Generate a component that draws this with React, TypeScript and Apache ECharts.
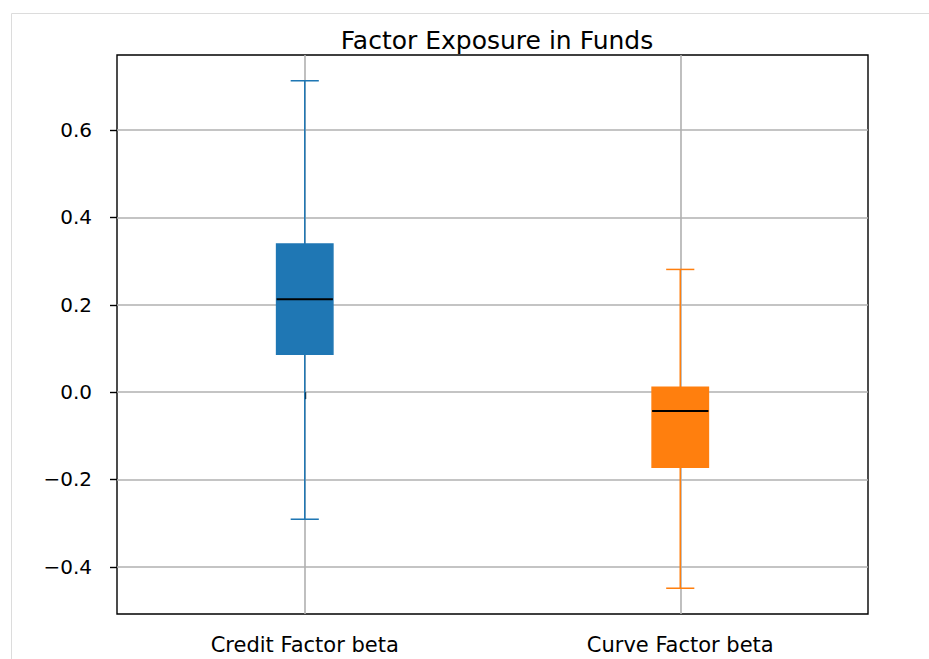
import React, { useEffect, useRef } from "react";
import * as echarts from "echarts";

// Box-plot statistics per factor: [whisker low, Q1, median, Q3, whisker high]
const categories = ["Credit Factor beta", "Curve Factor beta"];
const creditStats = [-0.291, 0.087, 0.213, 0.339, 0.713];
const curveStats = [-0.449, -0.172, -0.043, 0.011, 0.281];
const boxColors = ["#1f77b4", "#ff7f0e"];
const yTicks = [-0.4, -0.2, 0.0, 0.2, 0.4, 0.6];
const yRange = [-0.508, 0.772];

const BOX_WIDTH = 0.15;

export default function App() {
  const ref = useRef<HTMLDivElement>(null);

  useEffect(() => {
    if (!ref.current) return;
    const chart = echarts.init(ref.current, null, { renderer: "svg" });

    const boxData = [creditStats, curveStats].map((s, i) => [i + 1, ...s]);
    const catPositions = categories.map((_, i) => i + 1);

    const option: any = {
      animation: false,
      backgroundColor: "#ffffff",
      title: {
        text: "Factor Exposure in Funds",
        left: 492,
        textAlign: "center",
        top: 23,
        textStyle: {
          fontFamily: "DejaVu Sans",
          fontSize: 25,
          fontWeight: "normal",
          color: "#000",
          lineHeight: 25,
        },
      },
      graphic: [
        {
          type: "rect",
          silent: true,
          shape: { x: 11.5, y: 13.5, width: 2000, height: 2000 },
          style: { fill: "none", stroke: "#dcdcdc", lineWidth: 1 },
          z: -10,
        },
      ],
      grid: {
        left: 117,
        right: 61,
        top: 55,
        bottom: 45,
        show: true,
        borderColor: "#000",
        borderWidth: 1.4,
        backgroundColor: "transparent",
      },
      xAxis: {
        type: "value",
        min: 0.5,
        max: 2.5,
        axisLine: { show: false },
        axisTick: {
          show: true,
          customValues: catPositions,
          length: 7,
          lineStyle: { color: "#000", width: 1.4 },
        },
        axisLabel: {
          customValues: catPositions,
          margin: 20,
          fontFamily: "DejaVu Sans",
          fontSize: 21,
          color: "#000",
          formatter: (v: number) => categories[Math.round(v) - 1] ?? "",
        },
        splitLine: {
          show: true,
          lineStyle: { color: "#b0b0b0", width: 1.6 },
        },
      },
      yAxis: {
        type: "value",
        min: yRange[0],
        max: yRange[1],
        axisLine: { show: false },
        axisTick: {
          show: true,
          customValues: yTicks,
          length: 7,
          lineStyle: { color: "#000", width: 1.4 },
        },
        axisLabel: {
          customValues: yTicks,
          margin: 25,
          fontFamily: "DejaVu Sans",
          fontSize: 20,
          color: "#000",
          formatter: (v: number) => {
            const s = v.toFixed(1);
            return v < 0 ? "\u2212" + s.slice(1) : s;
          },
        },
        splitLine: {
          show: true,
          lineStyle: { color: "#b0b0b0", width: 1.6 },
        },
      },
      series: [
        {
          type: "custom",
          data: boxData,
          encode: { x: 0, y: [1, 2, 3, 4, 5] },
          renderItem: (params: any, api: any) => {
            const x = api.value(0);
            const idx = params.dataIndex;
            const color = boxColors[idx];
            const lo = api.coord([x, api.value(1)]);
            const q1 = api.coord([x, api.value(2)]);
            const med = api.coord([x, api.value(3)]);
            const q3 = api.coord([x, api.value(4)]);
            const hi = api.coord([x, api.value(5)]);
            const bw = api.size([BOX_WIDTH, 0])[0];
            const cw = bw / 2;
            const cx = lo[0];
            const line = (x1: number, y1: number, x2: number, y2: number, stroke: string, w: number) => ({
              type: "line",
              shape: { x1, y1, x2, y2 },
              style: { stroke, lineWidth: w },
            });
            return {
              type: "group",
              children: [
                line(cx, q1[1], cx, lo[1], color, 1.5),
                line(cx, q3[1], cx, hi[1], color, 1.5),
                line(cx - cw / 2, lo[1], cx + cw / 2, lo[1], color, 1.5),
                line(cx - cw / 2, hi[1], cx + cw / 2, hi[1], color, 1.5),
                {
                  type: "rect",
                  shape: { x: cx - bw / 2, y: q3[1], width: bw, height: q1[1] - q3[1] },
                  style: { fill: color, stroke: color, lineWidth: 1.5 },
                },
                line(cx - bw / 2, med[1], cx + bw / 2, med[1], "#000", 2),
              ],
            };
          },
        },
      ],
    };

    chart.setOption(option);
    return () => chart.dispose();
  }, []);

  return (
    <div
      ref={ref}
      style={{ position: "fixed", left: 0, top: 0, width: 929, height: 659 }}
    />
  );
}
